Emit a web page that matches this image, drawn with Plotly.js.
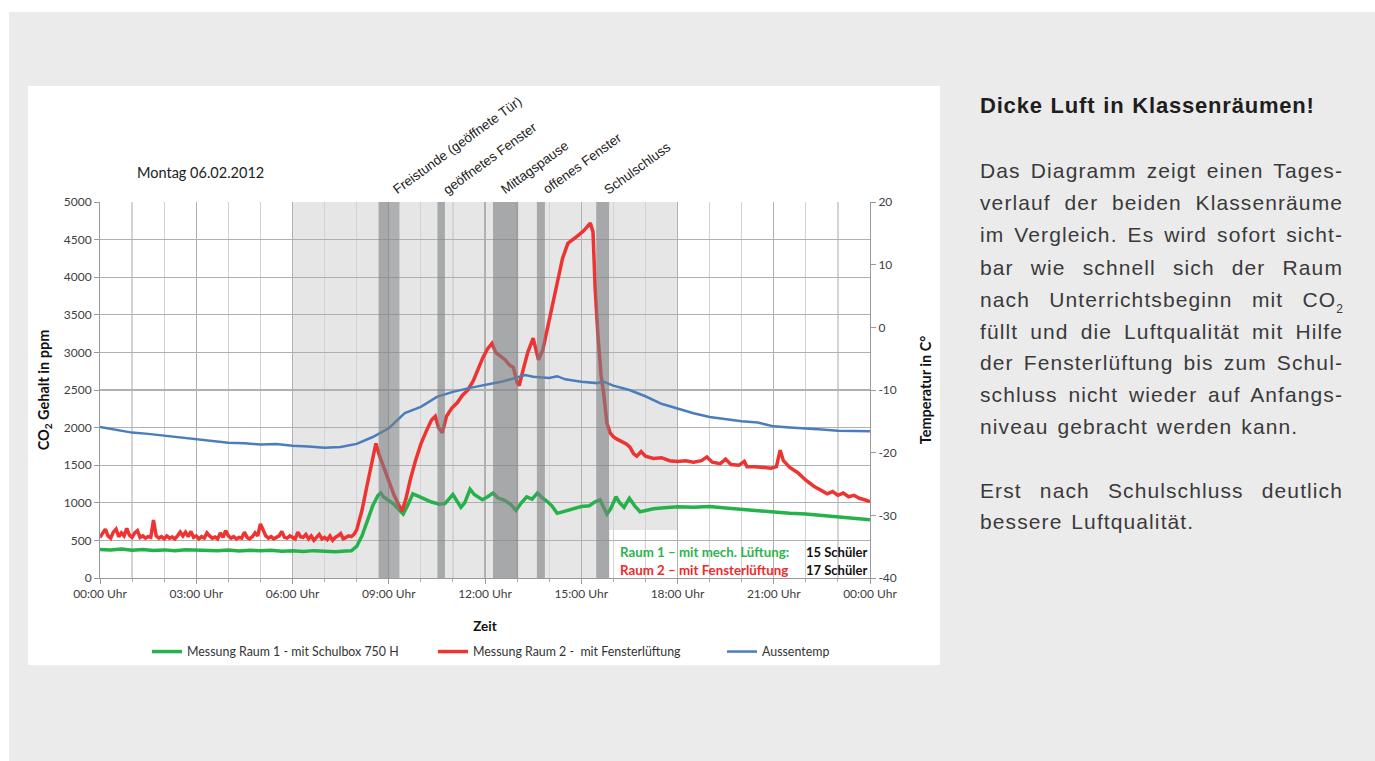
<!DOCTYPE html>
<html>
<head>
<meta charset="utf-8">
<script src="https://cdn.plot.ly/plotly-3.0.1.min.js"></script>
<style>
html,body{margin:0;padding:0;background:#fff;}
#chart{position:absolute;left:0;top:0;width:1375px;height:761px;}
#panel{position:absolute;left:980px;top:0;width:363px;font-family:"Liberation Sans",Arial,sans-serif;color:#3a3a3a;}
#panel .t{position:absolute;left:0;font-size:22px;font-weight:bold;color:#1e1e1e;white-space:nowrap;line-height:32px;letter-spacing:0.8px;word-spacing:1px;}
#panel .l{position:absolute;left:0;width:363px;font-size:21px;line-height:32px;height:32px;text-align:justify;text-align-last:justify;white-space:nowrap;letter-spacing:1.1px;word-spacing:2px;}
#panel .l.last{text-align-last:left;}
#panel .sub{font-size:12px;position:relative;top:6px;letter-spacing:0;}
</style>
</head>
<body>
<div id="chart"></div>
<div id="panel">
  <div class="t" style="top:90px;">Dicke Luft in Klassenräumen!</div>
  <div class="l" style="top:155px;">Das Diagramm zeigt einen Tages-</div>
  <div class="l" style="top:187px;">verlauf der beiden Klassenräume</div>
  <div class="l" style="top:219px;">im Vergleich. Es wird sofort sicht-</div>
  <div class="l" style="top:252px;">bar wie schnell sich der Raum</div>
  <div class="l" style="top:284px;">nach Unterrichtsbeginn mit CO<span class="sub">2</span></div>
  <div class="l" style="top:316px;">füllt und die Luftqualität mit Hilfe</div>
  <div class="l" style="top:347px;">der Fensterlüftung bis zum Schul-</div>
  <div class="l" style="top:379px;">schluss nicht wieder auf Anfangs-</div>
  <div class="l last" style="top:411px;">niveau gebracht werden kann.</div>
  <div class="l" style="top:475px;">Erst nach Schulschluss deutlich</div>
  <div class="l last" style="top:506px;">bessere Luftqualität.</div>
</div>
<script>
// ---------- DATA ----------
const tickHours = [0,3,6,9,12,15,18,21,24];
const tickLabels = ["00:00 Uhr","03:00 Uhr","06:00 Uhr","09:00 Uhr","12:00 Uhr","15:00 Uhr","18:00 Uhr","21:00 Uhr","00:00 Uhr"];
const tempTicks = [-40,-30,-20,-10,0,10,20];
const tempLabels = ["-40","-30","-20","-10","0","10","20"];

const seriesNames = ["Messung Raum 1 - mit Schulbox 750 H","Messung Raum 2 -  mit Fensterlüftung","Aussentemp"];

// Raum 1 (CO2 ppm)
const raum1Times = ["00:00","00:20","00:40","01:00","01:20","01:40","02:00","02:20","02:40","03:00","03:20","03:40","04:00","04:20","04:40","05:00","05:20","05:40","06:00","06:20","06:40","07:00","07:20","07:40","07:50",
"08:00","08:10","08:20","08:30","08:40","08:45","08:50","09:00","09:10","09:20","09:27","09:35","09:45","09:55","10:10","10:20","10:35","10:45","11:00","11:05","11:15","11:22","11:32","11:40","11:55","12:05","12:15","12:25","12:35","12:48","12:58","13:08","13:18","13:28","13:38","13:48","13:56","14:05","14:15","14:25","14:35","14:50","15:00","15:15","15:25","15:35","15:42","15:48","15:55","16:05","16:12","16:20","16:30","16:40","16:50","17:00","17:15","17:30","18:00","18:30","19:00","19:30","20:00","20:30","21:00","21:30","22:00","22:30","23:00","23:30","24:00"];
const raum1Values = [380,372,384,370,378,366,374,362,376,370,372,364,372,360,368,362,370,356,362,352,364,356,350,358,362,
420,560,760,960,1100,1130,1080,1030,980,900,850,960,1120,1090,1040,1010,980,990,1110,1060,940,1000,1180,1110,1040,1080,1130,1060,1040,980,900,1000,1080,1050,1130,1060,1020,960,860,880,900,920,950,960,1010,1040,940,850,920,1080,1000,940,1060,960,880,900,920,930,948,940,950,930,910,900,880,860,850,830,815,795,775];

// Raum 2 (CO2 ppm)
const raum2Times = [
"00:00","00:05","00:10","00:15","00:20","00:25","00:30","00:35","00:40","00:45","00:50","00:55",
"01:00","01:05","01:10","01:15","01:20","01:25","01:30","01:35","01:40","01:45","01:50","01:55",
"02:00","02:05","02:10","02:15","02:20","02:25","02:30","02:35","02:40","02:45","02:50","02:55",
"03:00","03:05","03:10","03:15","03:20","03:25","03:30","03:35","03:40","03:45","03:50","03:55",
"04:00","04:05","04:10","04:15","04:20","04:25","04:30","04:35","04:40","04:45","04:50","04:55",
"05:00","05:05","05:10","05:15","05:20","05:25","05:30","05:35","05:40","05:45","05:50","05:55",
"06:00","06:05","06:10","06:15","06:20","06:25","06:30","06:35","06:40","06:45","06:50","06:55",
"07:00","07:05","07:10","07:15","07:20","07:25","07:30","07:35","07:40","07:45","07:50","07:55",
"08:00","08:10","08:20","08:30","08:36","08:42","08:50","09:00","09:10","09:18","09:25","09:32","09:40","09:50","10:00","10:10","10:20","10:27","10:33","10:40","10:48","10:58","11:08","11:18","11:28","11:38","11:48","11:56","12:05","12:13","12:20","12:28","12:38","12:46","12:53","13:00","13:04","13:11","13:20","13:30","13:36","13:40","13:48","13:56","14:05","14:15","14:25","14:35","14:45","14:55","15:05","15:12","15:17","15:22","15:26","15:31","15:37","15:42","15:48","15:54","16:00","16:06","16:15","16:25","16:31","16:38","16:44","16:52","17:00","17:15","17:30","17:45","18:00","18:15","18:30","18:45","18:55","19:05","19:20","19:30","19:40","19:55","20:05","20:10","20:25","20:40","20:55","21:05","21:12","21:18","21:30","21:45","22:00","22:15","22:30","22:40","22:50","23:00","23:10","23:20","23:30","23:40","23:50","24:00"];
const raum2Values = [
540,600,650,560,530,610,650,550,600,560,660,570,
540,600,630,540,560,530,550,540,770,560,530,550,
520,560,530,545,520,560,610,560,610,550,620,540,
560,520,550,530,600,560,530,545,520,600,540,630,
560,530,550,520,540,530,610,540,520,550,600,560,
720,640,560,530,550,520,545,560,620,540,530,560,
540,520,610,550,540,580,520,560,500,540,580,520,
540,510,560,500,540,560,590,520,540,560,550,580,
640,900,1250,1600,1790,1640,1480,1300,1100,980,890,1050,1300,1560,1780,1950,2100,2150,2000,1930,2150,2260,2330,2430,2500,2620,2800,2930,3050,3120,3000,2960,2900,2830,2800,2600,2560,2760,3000,3190,3000,2900,3030,3300,3600,3950,4250,4450,4500,4560,4620,4680,4720,4600,3850,3250,2700,2450,2060,1930,1880,1850,1820,1780,1740,1650,1620,1680,1620,1590,1600,1560,1550,1560,1540,1560,1610,1540,1520,1580,1510,1500,1550,1480,1480,1470,1460,1480,1700,1560,1470,1400,1300,1220,1160,1120,1150,1100,1130,1080,1100,1060,1040,1015];

// Aussentemperatur (°C)
const tempTimes = ["00:00","00:30","01:00","01:30","02:00","02:30","03:00","03:30","04:00","04:30","05:00","05:30","06:00","06:30","07:00","07:30","08:00","08:30","09:00","09:30","10:00","10:30","11:00","11:30","12:00","12:30","13:00","13:15","13:30","14:00","14:15","14:30","15:00","15:30","15:40","16:00","16:30","17:00","17:30","18:00","18:30","19:00","19:30","20:00","20:30","21:00","21:30","22:00","22:30","23:00","23:30","24:00"];
const tempValues = [-15.9,-16.3,-16.8,-17.0,-17.3,-17.6,-17.9,-18.1,-18.4,-18.5,-18.7,-18.6,-18.9,-19.0,-19.2,-19.1,-18.6,-17.5,-16.1,-13.7,-12.7,-11.1,-10.3,-9.7,-9.2,-8.7,-8.0,-7.6,-7.9,-8.1,-7.8,-8.3,-8.7,-8.9,-8.6,-9.3,-10.0,-11.0,-12.2,-13.0,-13.7,-14.3,-14.7,-15.0,-15.2,-15.8,-16.0,-16.1,-16.3,-16.5,-16.5,-16.6];

// Events (annotation labels and window-open periods)
const eventLabels = ["Freistunde (geöffnete Tür)","geöffnetes Fenster","Mittagspause","offenes Fenster","Schulschluss"];
const eventLabelTimes = ["08:57","10:31","12:19","13:38","15:32"];
const ventStart = ["08:41","09:02","10:31","12:15","13:37","15:28"];
const ventEnd   = ["09:02","09:20","10:45","13:02","13:52","15:52"];
const schoolDay = ["06:00","18:00"];

// ---------- BUILD ----------
const h = s => { const p = s.split(":"); return +p[0] + (+p[1])/60; };
const FONT = "Lato, 'Open Sans', sans-serif";

const traces = [
  {x: raum1Times.map(h), y: raum1Values, name: seriesNames[0], type:"scatter", mode:"lines", legend:"legend",
   line:{color:"#26b24b", width:3.5}},
  {x: raum2Times.map(h), y: raum2Values, name: seriesNames[1], type:"scatter", mode:"lines", legend:"legend2",
   line:{color:"#ee3333", width:3.5}},
  {x: tempTimes.map(h), y: tempValues, name: seriesNames[2], type:"scatter", mode:"lines", yaxis:"y2", legend:"legend3",
   line:{color:"#4a7dbc", width:2.5}}
];

const px = v => (v-100)/770;
const py = v => (578-v)/376;

const shapes = [
  {type:"rect", xref:"paper", yref:"paper", x0:-0.5, x1:2, y0:py(12), y1:2, fillcolor:"#ffffff", line:{width:0}, layer:"below"},
  {type:"rect", xref:"paper", yref:"paper", x0:-0.5, x1:px(9), y0:-1, y1:2, fillcolor:"#ffffff", line:{width:0}, layer:"below"},
  {type:"rect", xref:"paper", yref:"paper", x0:px(28), x1:px(940), y0:py(665), y1:py(86), fillcolor:"#ffffff", line:{width:0}, layer:"below"},
  {type:"rect", xref:"x", yref:"paper", x0:h(schoolDay[0]), x1:h(schoolDay[1]), y0:0, y1:1, fillcolor:"#e6e6e6", line:{width:0}, layer:"below"},
  {type:"rect", xref:"x", yref:"paper", x0:15.88, x1:24, y0:0, y1:py(530), fillcolor:"#ffffff", line:{width:0}, layer:"below"}
];
ventStart.forEach((s,i)=>{
  shapes.push({type:"rect", xref:"x", yref:"paper", x0:h(s), x1:h(ventEnd[i]), y0:0, y1:1,
    fillcolor:"#7b7f82", opacity: i===1 ? 0.52 : 0.6, line:{width:0}, layer:"above"});
});

const annotations = [
  {xref:"paper", yref:"paper", x:px(200), y:py(172), text:"Montag 06.02.2012", showarrow:false,
   font:{family:FONT, size:14.5, color:"#222"}, xanchor:"center", yanchor:"middle"},
  {xref:"paper", yref:"paper", x:px(618), y:py(552), text:"<b>Raum 1 – mit mech. Lüftung:</b>", showarrow:false,
   font:{family:FONT, size:13.3, color:"#2db44e"}, xanchor:"left", yanchor:"middle"},
  {xref:"paper", yref:"paper", x:px(618), y:py(570), text:"<b>Raum 2 – mit Fensterlüftung</b>", showarrow:false,
   font:{family:FONT, size:13.3, color:"#f02a2a"}, xanchor:"left", yanchor:"middle"},
  {xref:"paper", yref:"paper", x:px(804), y:py(552), text:"<b>15 Schüler</b>", showarrow:false,
   font:{family:FONT, size:13, color:"#111"}, xanchor:"left", yanchor:"middle"},
  {xref:"paper", yref:"paper", x:px(804), y:py(570), text:"<b>17 Schüler</b>", showarrow:false,
   font:{family:FONT, size:13, color:"#111"}, xanchor:"left", yanchor:"middle"}
];
eventLabels.forEach((t,i)=>{
  annotations.push({xref:"x", yref:"paper", x:h(eventLabelTimes[i]), y:py(200), text:t, showarrow:false,
    textangle:-36, xanchor:"left", yanchor:"bottom",
    font:{family:"'Liberation Sans', Arial, sans-serif", size:13.4, color:"#222"}});
});

const legendBase = {orientation:"h", y:py(652), xanchor:"left", yanchor:"middle", bgcolor:"rgba(0,0,0,0)",
  font:{family:FONT, size:12.4, color:"#333"}, itemwidth:30};

const layout = {
  width:1375, height:761,
  paper_bgcolor:"#ebebeb", plot_bgcolor:"rgba(0,0,0,0)",
  margin:{l:100, r:505, t:202, b:183, pad:0},
  font:{family:FONT, size:12, color:"#404040"},
  showlegend:true,
  legend: Object.assign({}, legendBase, {x:px(147)}),
  legend2: Object.assign({}, legendBase, {x:px(433)}),
  legend3: Object.assign({}, legendBase, {x:px(722)}),
  xaxis:{range:[0,24], tickvals:tickHours, ticktext:tickLabels, showgrid:true, gridcolor:"#b0b0b0", gridwidth:1.2,
         minor:{dtick:1, tick0:0, showgrid:true, gridcolor:"#d3d3d3", gridwidth:1.2, ticks:"outside", ticklen:3, tickcolor:"#aaa"},
         ticks:"outside", ticklen:5, tickcolor:"#999", showline:true, linecolor:"#9a9a9a", linewidth:1, zeroline:false,
         tickfont:{family:FONT, size:12, color:"#404040"},
         title:{text:"<b>Zeit</b>", font:{family:FONT, size:13.5, color:"#111"}, standoff:21}},
  yaxis:{range:[0,5000], dtick:500, tick0:0, showgrid:true, gridcolor:"#b0b0b0", gridwidth:1.2,
         ticks:"outside", ticklen:5, tickcolor:"#999", showline:true, linecolor:"#9a9a9a", zeroline:false,
         tickfont:{family:FONT, size:12, color:"#404040"},
         title:{text:"<b>CO<sub>2</sub> Gehalt in ppm</b>", font:{family:FONT, size:14.5, color:"#111"}, standoff:10}},
  yaxis2:{range:[-40,20], overlaying:"y", side:"right", tickvals:tempTicks, ticktext:tempLabels, showgrid:false,
          ticks:"outside", ticklen:5, tickcolor:"#999", showline:true, linecolor:"#9a9a9a", zeroline:false,
          tickfont:{family:FONT, size:12, color:"#404040"},
          title:{text:"<b>Temperatur in C°</b>", font:{family:FONT, size:14.5, color:"#111"}, standoff:25}},
  shapes:shapes,
  annotations:annotations
};

Plotly.newPlot("chart", traces, layout, {displayModeBar:false, staticPlot:true});
</script>
</body>
</html>
